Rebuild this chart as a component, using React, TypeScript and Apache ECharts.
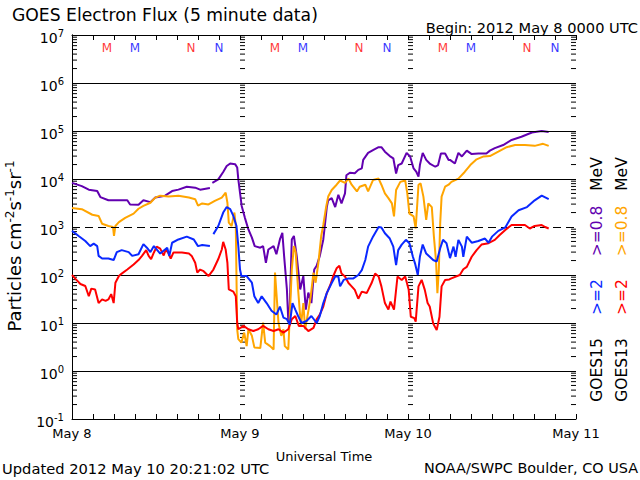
import React, { useEffect, useRef } from "react";
import * as echarts from "echarts";

type Pt = [number, number | null];

const FONT = '"DejaVu Sans", sans-serif';

// Hours since 2012 May 8 00:00 UTC, flux (particles cm^-2 s^-1 sr^-1)
const goes15_08MeV: Pt[] = [
  [0, 8300], [1.4, 7100], [2.4, 6000], [3.6, 5600], [4.05, 4200], [5.2, 3600], [6.7, 3600], [7.9, 3600],
  [8.3, 2950], [9.5, 2900], [10.2, 3600], [11.2, 3300], [11.9, 4100], [13.3, 4500], [14.3, 5600], [15.2, 6000],
  [16.4, 6900], [17.6, 6600], [18.3, 6000], [19.7, 6500], [19.85, null], [20.05, 8300], [20.9, 9800], [21.6, 14000],
  [22.1, 18600], [22.6, 21000], [23.3, 20400], [23.6, 17400], [23.76, 9800], [24.0, 5200], [24.24, 2750], [24.7, 1550],
  [25.2, 890], [25.7, 600], [26.1, 400], [26.9, 370], [27.3, 400], [27.7, 180], [28.05, 340], [28.8, 400],
  [29.2, 270], [29.7, 550], [30.05, 760], [30.3, 250], [30.7, 50], [30.9, 11], [31.1, 20], [31.4, 550],
  [31.7, 650], [32.1, 250], [32.6, 50], [33.05, 95], [33.4, 19], [33.76, 43], [34.2, 26], [34.6, 130],
  [34.95, 155], [35.4, 250], [35.9, 550], [36.1, 1000], [36.4, 2600], [36.6, 3600], [37.1, 4000], [37.6, 2600],
  [38.05, 4700], [38.5, 3100], [39.0, 5000], [39.2, 12000], [39.7, 13500], [40.4, 13200], [40.9, 15500], [41.4, 16600],
  [41.6, 25000], [42.3, 35000], [43.0, 40000], [43.8, 46000], [44.2, 46000], [44.7, 37000], [45.4, 30000], [45.9, 27000],
  [46.3, 13000], [46.6, 19500], [47.1, 21000], [47.8, 35000], [48.3, 29500], [48.8, 16600], [49.2, 14000], [49.5, 11200],
  [49.7, 19500], [50.1, 35000], [50.6, 25000], [51.1, 21000], [51.9, 18000], [52.3, 19500], [52.7, 34000], [53.3, 34000],
  [53.8, 25000], [54.0, 25000], [54.7, 21000], [55.2, 35000], [55.7, 29500], [56.4, 39000], [57.1, 33000], [58.05, 34000],
  [59.2, 34000], [59.7, 39000], [60.4, 44000], [61.6, 51000], [62.8, 65000], [64.2, 76000], [65.7, 93000], [67.1, 100000],
  [68.1, 95000],
];

const goes13_08MeV: Pt[] = [
  [0, 2500], [1.4, 2350], [2.9, 1800], [3.8, 1700], [4.3, 1170], [5.2, 1050], [5.86, 1000], [6.0, 650],
  [6.2, 1050], [6.7, 1260], [7.6, 1550], [8.8, 1900], [9.5, 2400], [10.2, 2750], [11.2, 3200], [11.9, 4100],
  [12.6, 4500], [13.8, 4300], [15.2, 4500], [16.7, 4100], [17.6, 3800], [18.0, 2800], [18.6, 3100], [19.5, 2950],
  [20.4, 3500], [21.4, 4100], [21.95, 5200], [22.2, 3200], [22.4, 1230], [22.8, 1050], [23.2, 2000], [23.4, 1050],
  [23.5, 81], [23.6, 7.4], [23.76, 4.6], [24.2, 3.9], [24.6, 6.3], [24.95, 3.3], [25.2, 7.4], [25.7, 5.4],
  [26.05, 3.1], [26.9, 3.0], [27.3, 10.2], [27.6, 3.9], [28.3, 3.3], [28.8, 2.8], [29.0, 112], [29.2, 43],
  [29.5, 10], [29.9, 5.4], [30.2, 7.4], [30.4, 3.3], [30.9, 2.8], [31.4, 130], [31.7, 400], [31.95, 300],
  [32.3, 50], [32.7, 8.7], [33.05, 26], [33.3, 7.4], [33.8, 19], [34.1, 36], [34.5, 112], [34.8, 69],
  [35.2, 180], [35.6, 650], [35.9, 1100], [36.3, 2600], [36.6, 4300], [37.1, 5900], [37.8, 7600], [38.3, 9300],
  [39.0, 8300], [39.5, 10200], [39.95, 7600], [40.7, 5500], [41.1, 6900], [41.9, 7600], [42.3, 5500], [43.0, 9500],
  [43.8, 10200], [44.2, 7600], [44.7, 5000], [45.2, 4000], [45.7, 3100], [46.0, 1660], [46.3, 5900], [46.9, 8700],
  [47.6, 9300], [47.9, 5000], [48.2, 1900], [48.8, 1660], [49.1, 930], [49.5, 7600], [49.8, 8100], [50.2, 4300],
  [50.6, 1400], [50.9, 3100], [51.4, 2600], [51.7, 630], [52.0, 200], [52.2, 42], [52.4, 126], [52.6, 1200],
  [52.8, 4300], [53.3, 6900], [53.8, 7600], [54.2, 8700], [55.2, 10200], [56.1, 14000], [56.9, 19500], [57.8, 25700],
  [58.8, 29500], [59.7, 30000], [60.9, 37000], [62.1, 46000], [63.3, 51000], [64.7, 51000], [66.1, 49000], [67.3, 54000],
  [68.1, 49000],
];

const goes15_2MeV: Pt[] = [
  [0, 830], [0.95, 650], [1.9, 510], [2.6, 400], [3.1, 450], [3.6, 400], [3.8, 250], [4.3, 220],
  [5.2, 220], [5.95, 205], [6.4, 300], [7.1, 330], [8.1, 300], [8.6, 250], [9.5, 270], [10.2, 440],
  [10.7, 370], [11.2, 300], [11.7, 400], [12.6, 280], [13.6, 370], [13.9, 250], [14.3, 470], [15.2, 550],
  [16.4, 630], [17.4, 550], [18.0, 400], [18.6, 420], [19.7, 400], [19.85, null], [20.2, 710], [20.9, 1050],
  [21.6, 2000], [22.1, 2600], [22.6, 2350], [23.05, 1700], [23.5, 1050], [23.76, 400], [24.0, 130], [24.2, 95],
  [24.95, 95], [25.7, 69], [26.05, 36], [26.6, 26], [27.1, 36], [27.8, 26], [28.5, 18], [29.2, 15],
  [29.7, 22], [30.2, 13], [30.7, 12], [31.1, 9.3], [31.5, 26], [31.9, 19], [32.3, 14], [32.8, 10],
  [33.5, 11], [34.2, 14], [34.95, 10], [35.4, 14], [35.9, 26], [36.4, 42], [37.1, 68], [37.6, 93],
  [38.05, 93], [38.3, 58], [38.8, 79], [39.5, 85], [40.2, 85], [40.9, 100], [41.4, 126], [41.9, 205],
  [42.3, 390], [43.0, 630], [43.8, 1000], [44.2, 980], [44.7, 740], [45.4, 575], [45.9, 390], [46.3, 160],
  [46.6, 330], [47.1, 430], [47.7, 540], [48.2, 460], [48.7, 240], [49.0, 175], [49.4, 100], [49.7, 240],
  [50.1, 430], [50.6, 280], [51.1, 240], [51.6, 205], [52.1, 190], [52.6, 360], [53.0, 540], [53.5, 460],
  [54.0, 225], [54.5, 390], [54.8, 240], [55.2, 540], [55.7, 390], [55.9, 240], [56.4, 630], [57.1, 470],
  [58.05, 510], [59.0, 575], [59.5, 470], [60.0, 630], [60.9, 830], [61.9, 980], [62.8, 1660], [63.8, 2240],
  [65.0, 2600], [66.1, 3600], [67.1, 4500], [68.1, 3800],
];

const goes13_2MeV: Pt[] = [
  [0, 100], [0.5, 83], [1.2, 65], [1.9, 59], [2.4, 36], [2.76, 52], [3.3, 50], [3.8, 26],
  [4.3, 31], [4.8, 29], [5.2, 31], [5.6, 40], [5.95, 26], [6.2, 69], [6.7, 95], [7.1, 107],
  [7.9, 130], [8.8, 165], [9.5, 205], [10.0, 250], [10.6, 330], [10.95, 250], [11.3, 215], [11.7, 295],
  [12.1, 390], [12.6, 355], [13.1, 255], [13.4, 340], [13.8, 280], [14.1, 220], [14.5, 295], [15.7, 295],
  [16.7, 280], [17.1, 250], [17.6, 180], [17.9, 112], [18.3, 130], [18.8, 120], [19.5, 95], [20.2, 130],
  [20.9, 215], [21.4, 340], [21.6, 490], [21.95, 340], [22.2, 180], [22.4, 50], [23.05, 45], [23.4, 36],
  [23.6, 10], [23.76, 7.4], [24.5, 8.7], [25.2, 7.4], [25.9, 6.8], [26.6, 7.4], [27.3, 8.7], [28.05, 7.4],
  [28.8, 6.8], [29.5, 7.4], [30.2, 6.3], [30.9, 7.4], [31.4, 12], [31.9, 14], [32.4, 8.7], [33.05, 8.7],
  [33.76, 6.8], [34.5, 7.9], [34.95, 12], [35.4, 15], [35.9, 22], [36.4, 42], [36.9, 62], [37.3, 93],
  [37.8, 138], [38.2, 155], [38.5, 107], [39.0, 93], [39.5, 68], [39.95, 58], [40.4, 49], [40.9, 32],
  [41.4, 45], [42.1, 42], [42.8, 68], [43.3, 107], [43.8, 93], [44.2, 58], [44.7, 26], [45.2, 19],
  [45.5, 28], [46.0, 19], [46.5, 93], [47.1, 79], [47.6, 93], [48.1, 49], [48.4, 13.5], [48.9, 12.6],
  [49.1, 10.7], [49.5, 58], [49.95, 79], [50.4, 49], [50.8, 26], [51.1, 22], [51.6, 9.8], [52.1, 7.1],
  [52.5, 13.5], [52.8, 58], [53.3, 79], [53.9, 81], [54.2, 85], [55.4, 100], [55.9, 132], [56.4, 148],
  [57.1, 240], [57.8, 330], [58.5, 430], [59.5, 460], [60.4, 540], [61.1, 680], [61.9, 870], [62.8, 1100],
  [63.8, 1100], [64.7, 1100], [65.4, 930], [66.1, 1050], [67.1, 1100], [67.6, 1000], [68.1, 930],
];

const dayLabels = ["May 8", "May 9", "May 10", "May 11"];

// Local midnight (M) / noon (N) markers, hours since start
const mnHours = [5, 9, 17, 21, 29, 33, 41, 45, 53, 57, 65, 69];
const mnLetters = ["M", "M", "N", "N", "M", "M", "N", "N", "M", "M", "N", "N"];
const mnColors = ["#ff0000", "#0000ff", "#ff0000", "#0000ff", "#ff0000", "#0000ff", "#ff0000", "#0000ff", "#ff0000", "#0000ff", "#ff0000", "#0000ff"];
const mnLevel = 5.4e6;

const gridSolid = [1e6, 1e5, 1e4, 1e2, 1e1, 1e0];
const gridDashed = [1e3];

const decades = [-1, 0, 1, 2, 3, 4, 5, 6];
const minorMult = [2, 3, 4, 5, 6, 7, 8, 9];
// x position (hours) of minor-tick columns and their direction
const tickColumns: [number, number][] = [[0, 1], [24, 1], [48, 1], [72, -1]];

const C_PURPLE = "#6200b0";
const C_ORANGE = "#ffa500";
const C_BLUE = "#0a28ff";
const C_RED = "#ff0000";

export default function App() {
  const ref = useRef<HTMLDivElement>(null);

  useEffect(() => {
    if (!ref.current) return;
    const chart = echarts.init(ref.current, undefined, { renderer: "svg" });

    const tickData: number[][] = [];
    tickColumns.forEach(([h, dir]) => {
      decades.forEach((d) => {
        minorMult.forEach((m) => {
          tickData.push([h, m * Math.pow(10, d), dir]);
        });
      });
    });

    const lineSeries = (name: string, data: Pt[], color: string, z: number) => ({
      type: "line",
      name,
      data,
      showSymbol: false,
      symbol: "none",
      connectNulls: false,
      lineStyle: { color, width: 2 },
      itemStyle: { color },
      z,
      silent: true,
    });

    const xAxisCommon = {
      type: "value",
      min: 0,
      max: 72,
      interval: 24,
      axisLine: { show: true, lineStyle: { color: "#000", width: 1 } },
      axisTick: { show: true, inside: true, length: 5, lineStyle: { color: "#000", width: 1 } },
      minorTick: { show: true, splitNumber: 8, length: 5, lineStyle: { color: "#000", width: 1 } },
      splitLine: { show: false },
    };

    const yAxisCommon = {
      type: "log",
      logBase: 10,
      min: 0.1,
      max: 1e7,
      splitNumber: 8,
      axisLine: { show: true, lineStyle: { color: "#000", width: 1 } },
      axisTick: { show: false },
      minorTick: { show: false },
      splitLine: { show: false },
    };

    const rotText = (x: number, y: number, text: string, color: string, size: number) => ({
      type: "text",
      x,
      y,
      rotation: Math.PI / 2,
      style: {
        text,
        fill: color,
        fontSize: size,
        fontFamily: FONT,
        align: "center",
        verticalAlign: "middle",
      },
    });

    const plainText = (x: number, y: number, text: string, size: number, align: string) => ({
      type: "text",
      x,
      y,
      style: {
        text,
        fill: "#000",
        fontSize: size,
        fontFamily: FONT,
        align,
        verticalAlign: "middle",
      },
    });

    chart.setOption({
      animation: false,
      backgroundColor: "#ffffff",
      textStyle: { fontFamily: FONT },
      grid: { left: 72, right: 64, top: 35, bottom: 61, show: false },
      xAxis: [
        {
          ...xAxisCommon,
          position: "bottom",
          axisLabel: {
            color: "#000",
            fontSize: 13,
            fontFamily: FONT,
            margin: 8,
            formatter: (v: number) => dayLabels[Math.round(v / 24)] ?? "",
          },
          name: "Universal Time",
          nameLocation: "middle",
          nameGap: 31,
          nameTextStyle: { color: "#000", fontSize: 13, fontFamily: FONT },
        },
        {
          ...xAxisCommon,
          position: "top",
          axisLabel: { show: false },
        },
      ],
      yAxis: [
        {
          ...yAxisCommon,
          position: "left",
          axisLabel: {
            margin: 8,
            color: "#000",
            padding: [6, 0, 0, 0],
            formatter: (v: number) => `{b|10}{e|${Math.round(Math.log10(v))}}`,
            rich: {
              b: { fontSize: 14, lineHeight: 14, fontFamily: FONT, color: "#000" },
              e: {
                fontSize: 10,
                lineHeight: 10,
                verticalAlign: "bottom",
                padding: [0, 0, 7, 0],
                fontFamily: FONT,
                color: "#000",
              },
            },
          },
        },
        {
          ...yAxisCommon,
          position: "right",
          axisLabel: { show: false },
        },
      ],
      series: [
        {
          type: "line",
          data: [],
          silent: true,
          z: 1,
          markLine: {
            silent: true,
            symbol: ["none", "none"],
            label: { show: false },
            animation: false,
            data: [
              ...gridSolid.map((v) => ({ yAxis: v, lineStyle: { color: "#000", width: 1, type: "solid" } })),
              ...gridDashed.map((v) => ({ yAxis: v, lineStyle: { color: "#000", width: 1, type: [8, 5] } })),
            ],
          },
        },
        {
          type: "custom",
          silent: true,
          z: 2,
          data: tickData,
          encode: { x: 0, y: 1 },
          renderItem: (_params: any, api: any) => {
            const p = api.coord([api.value(0), api.value(1)]);
            const dir = api.value(2);
            return {
              type: "line",
              shape: { x1: p[0], y1: p[1], x2: p[0] + dir * 5, y2: p[1] },
              style: { stroke: "#000", lineWidth: 1 },
            };
          },
        },
        lineSeries("GOES15 >=0.8 MeV", goes15_08MeV, C_PURPLE, 3),
        lineSeries("GOES13 >=0.8 MeV", goes13_08MeV, C_ORANGE, 4),
        lineSeries("GOES13 >=2 MeV", goes13_2MeV, C_RED, 5),
        lineSeries("GOES15 >=2 MeV", goes15_2MeV, C_BLUE, 6),
        {
          type: "scatter",
          silent: true,
          z: 7,
          symbolSize: 1,
          itemStyle: { color: "rgba(0,0,0,0)" },
          data: mnHours.map((h, i) => ({
            value: [h, mnLevel],
            name: mnLetters[i],
            label: { color: mnColors[i] },
          })),
          label: {
            show: true,
            position: "inside",
            fontSize: 12,
            fontFamily: FONT,
            formatter: (p: any) => p.name,
          },
        },
      ],
      graphic: [
        plainText(12, 15, "GOES Electron Flux (5 minute data)", 17.2, "left"),
        plainText(638, 27, "Begin: 2012 May 8 0000 UTC", 14.6, "right"),
        plainText(2, 468, "Updated 2012 May 10 20:21:02 UTC", 14.7, "left"),
        plainText(638, 468, "NOAA/SWPC Boulder, CO USA", 14.4, "right"),
        {
          type: "text",
          x: 14,
          y: 246,
          rotation: Math.PI / 2,
          style: {
            text: "{m|Particles cm}{s|-2}{m|s}{s|-1}{m|sr}{s|-1}",
            align: "center",
            verticalAlign: "middle",
            rich: {
              m: { fontSize: 18, lineHeight: 20, fontFamily: FONT, fill: "#000", color: "#000" },
              s: { fontSize: 12, lineHeight: 14, verticalAlign: "top", fontFamily: FONT, fill: "#000", color: "#000" },
            },
          },
        },
        rotText(597, 174, "MeV", "#000", 15.5),
        rotText(597, 231, ">=0.8", C_PURPLE, 15.5),
        rotText(597, 297, ">=2", C_BLUE, 15.5),
        rotText(597, 370, "GOES15", "#000", 15.5),
        rotText(622, 174, "MeV", "#000", 15.5),
        rotText(622, 231, ">=0.8", C_ORANGE, 15.5),
        rotText(622, 297, ">=2", C_RED, 15.5),
        rotText(622, 370, "GOES13", "#000", 15.5),
      ],
    });

    return () => {
      chart.dispose();
    };
  }, []);

  return (
    <div
      ref={ref}
      style={{ position: "fixed", left: 0, top: 0, width: 640, height: 480, background: "#fff" }}
    />
  );
}
